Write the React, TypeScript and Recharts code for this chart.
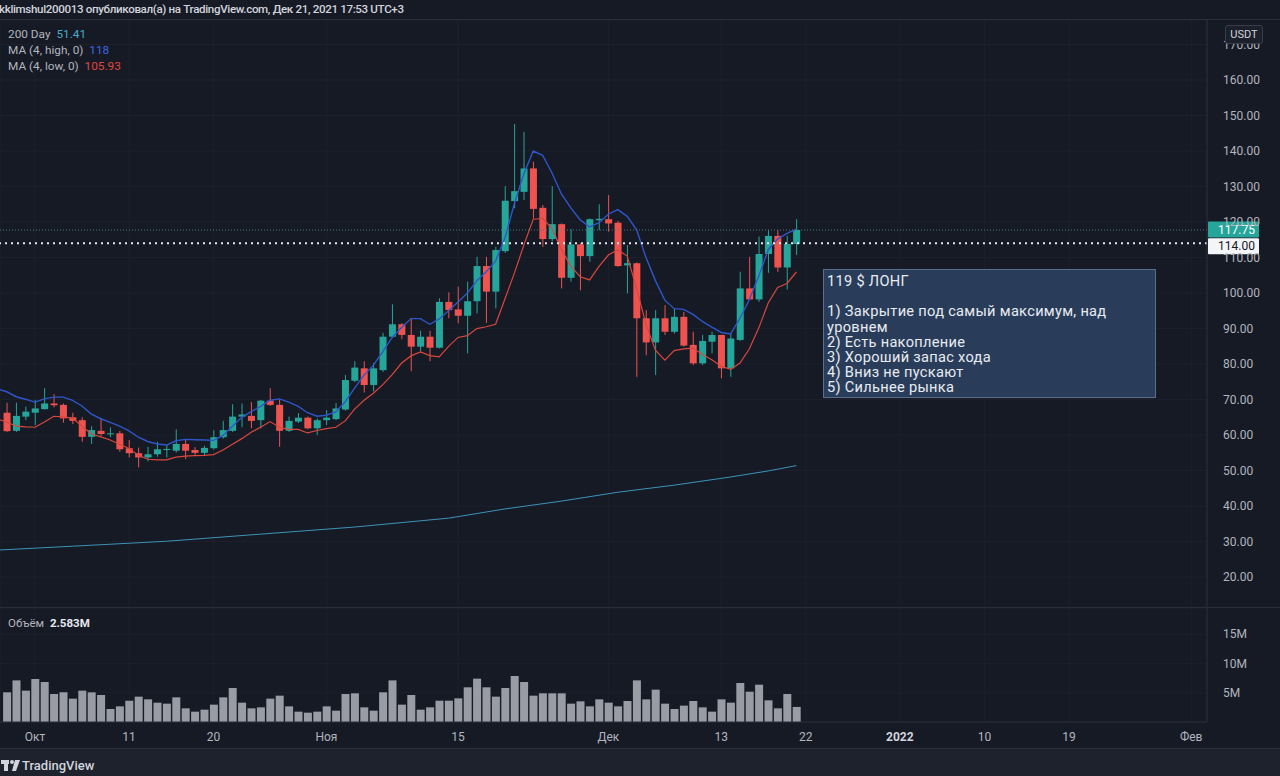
import React from "react";
import {
  ComposedChart,
  Bar,
  Line,
  XAxis,
  YAxis,
  CartesianGrid,
  ReferenceLine,
} from "recharts";

const BG = "#161a25";
const GRID = "#1d212d";
const BORDER = "#2a2e39";
const TEXT = "#b2b5be";
const UP = "#26a69a";
const DOWN = "#ef5350";
const FONT = "Roboto, 'Noto Sans', sans-serif";

// day index: 0 = 1 Oct 2021, candles run 28 Sep .. 21 Dec
const FIRST_DAY = -4;
const DAYS = Array.from({ length: 86 }, (_, i) => FIRST_DAY + i);

const DATE_TICKS = [0, 10, 19, 31, 45, 61, 73, 82, 92, 101, 110, 123];
const DATE_LABELS = ["Окт", "11", "20", "Ноя", "15", "Дек", "13", "22", "2022", "10", "19", "Фев"];
const PRICE_TICKS = [20, 30, 40, 50, 60, 70, 80, 90, 100, 110, 120, 130, 140, 150, 160, 170];
const VOL_TICKS = [5, 10, 15];

// candles from 28 Sep (day -3) to 21 Dec (day 81)
const OPEN = [
  66.3, 61.2, 65.2, 66.3, 67.3, 68.9, 68.5, 65.0, 64.2, 59.5, 61.2, 60.2, 60.5, 56.3, 54.9, 53.7, 54.6,
  55.8, 55.6, 57.5, 55.8, 55.0, 56.3, 59.4, 61.2, 65.2, 65.4, 64.2, 69.7, 68.5, 61.2, 63.8, 64.9, 61.9,
  64.2, 64.5, 67.2, 75.3, 78.8, 74.1, 78.3, 87.7, 91.2, 88.2, 84.9, 87.7, 84.6, 97.5, 95.4, 93.6, 97.7,
  107.6, 100.4, 111.8, 125.9, 128.5, 135.1, 124.0, 115.2, 119.4, 104.3, 113.7, 110.4, 120.5, 120.8, 119.8,
  107.8, 108.4, 92.9, 86.1, 92.9, 89.1, 93.3, 85.4, 80.2, 86.3, 88.2, 78.8, 86.8, 101.3, 98.2, 111.0,
  116.1, 107.2, 113.8,
];
const HIGH = [
  69.1, 69.1, 68.0, 69.9, 73.2, 71.5, 68.9, 66.3, 65.0, 62.5, 64.7, 62.2, 61.2, 58.6, 56.5, 56.7, 58.1,
  57.2, 61.6, 58.6, 56.6, 57.0, 61.4, 64.0, 68.7, 68.9, 69.3, 69.9, 73.2, 70.1, 65.2, 66.2, 65.2, 64.7,
  67.0, 69.0, 76.9, 80.8, 80.8, 80.3, 88.8, 96.8, 91.5, 93.0, 89.4, 89.4, 98.5, 100.2, 101.8, 103.2,
  110.2, 110.2, 113.0, 130.1, 147.6, 145.4, 137.0, 124.8, 130.1, 119.6, 118.0, 114.0, 121.0, 125.0, 127.6,
  120.3, 113.5, 108.6, 95.2, 95.2, 96.6, 95.7, 94.7, 89.1, 88.2, 89.1, 88.2, 88.6, 106.0, 110.2, 115.9,
  117.7, 117.7, 116.1, 120.8,
];
const LOW = [
  60.9, 60.9, 64.2, 62.8, 67.2, 67.8, 63.5, 63.1, 58.1, 57.5, 59.8, 59.4, 55.3, 53.7, 50.9, 52.6, 53.9,
  53.7, 55.1, 53.2, 54.3, 54.4, 55.9, 59.0, 60.9, 62.2, 61.9, 61.9, 68.2, 56.7, 60.9, 63.4, 61.6, 60.0,
  62.8, 64.2, 66.9, 74.9, 72.0, 72.3, 77.8, 87.3, 87.0, 78.0, 83.5, 80.8, 84.4, 92.9, 91.5, 83.0, 94.3,
  91.6, 95.7, 111.3, 123.9, 126.2, 121.0, 113.0, 114.6, 101.3, 103.2, 100.8, 108.8, 117.7, 117.3, 107.4,
  99.9, 76.4, 82.5, 76.9, 88.2, 88.6, 84.9, 79.7, 79.7, 83.0, 76.0, 76.4, 86.5, 98.0, 97.5, 105.7, 106.0,
  101.0, 110.7,
];
const CLOSE = [
  61.1, 65.4, 66.6, 67.5, 68.9, 68.4, 64.7, 64.0, 59.5, 61.4, 60.3, 60.5, 56.0, 54.9, 53.7, 54.6, 56.0,
  56.1, 57.5, 55.6, 55.0, 56.4, 59.4, 61.4, 65.2, 65.8, 64.0, 69.7, 68.5, 61.2, 64.0, 64.9, 61.9, 64.2,
  64.9, 67.5, 75.5, 79.0, 74.1, 78.8, 87.7, 91.2, 88.2, 84.9, 87.7, 84.6, 97.5, 95.2, 93.6, 97.7, 107.6,
  100.4, 112.1, 126.0, 128.7, 135.1, 123.7, 115.2, 119.4, 104.3, 113.7, 110.4, 120.8, 120.9, 119.6, 107.6,
  108.4, 92.9, 86.1, 92.9, 89.1, 93.3, 85.2, 80.2, 86.5, 88.2, 78.8, 87.2, 101.3, 98.2, 111.0, 116.1,
  107.2, 113.8, 117.75,
];
// volume in millions
const VOLUME = [
  5.08, 7.13, 5.37, 7.36, 6.85, 4.79, 5.08, 4.0, 5.37, 5.08, 4.62, 2.23, 2.68, 3.65, 4.34, 3.88, 3.31,
  3.14, 4.22, 2.34, 1.77, 2.11, 2.97, 4.22, 5.82, 3.31, 2.34, 2.51, 4.0, 4.51, 2.68, 1.77, 1.6, 1.77,
  2.68, 1.94, 4.79, 4.91, 2.51, 1.94, 5.08, 7.13, 2.97, 4.62, 2.11, 2.51, 3.65, 3.65, 4.05, 5.94, 7.42,
  5.94, 4.34, 5.82, 7.88, 6.85, 4.51, 4.91, 4.91, 4.91, 3.14, 3.54, 2.68, 3.88, 3.31, 2.68, 3.6, 7.13,
  3.88, 5.54, 3.14, 2.23, 2.8, 3.6, 2.51, 1.77, 3.88, 3.31, 6.68, 5.19, 6.39, 3.71, 2.34, 4.79, 2.58,
];
// MA (4, high) and MA (4, low), from day -4
const MA_HIGH = [
  73.0, 72.2, 70.8, 70.1, 69.3, 70.2, 70.7, 70.7, 69.8, 68.2, 65.9, 64.6, 63.6, 62.5, 61.2, 59.4, 58.2,
  57.5, 57.2, 58.4, 58.8, 58.7, 58.6, 58.5, 59.9, 62.5, 65.0, 66.6, 68.1, 69.8, 70.2, 69.3, 68.1, 66.3,
  65.3, 65.6, 66.5, 69.4, 73.2, 76.9, 79.7, 83.5, 87.5, 90.3, 92.8, 92.8, 91.2, 92.7, 95.0, 97.5, 100.0,
  103.5, 106.0, 109.0, 115.6, 125.2, 133.5, 140.0, 138.8, 133.8, 127.9, 124.0, 120.6, 118.6, 119.8,
  122.2, 123.5, 121.6, 117.8, 110.0, 103.5, 98.0, 95.6, 95.4, 94.0, 92.0, 90.4, 88.9, 88.5, 92.9, 98.2,
  104.8, 112.2, 115.2, 116.8, 118.0,
];
const MA_LOW = [
  64.5, 63.7, 62.5, 62.3, 62.2, 63.7, 65.3, 65.1, 64.8, 62.5, 60.3, 59.5, 58.6, 57.4, 56.2, 54.3, 53.2,
  53.0, 53.0, 53.8, 54.1, 54.2, 54.3, 54.5, 55.8, 57.4, 59.0, 60.8, 62.2, 63.8, 62.2, 61.6, 61.6, 60.6,
  61.3, 61.8, 62.2, 64.0, 67.3, 69.8, 71.8, 74.2, 77.0, 80.3, 82.3, 83.4, 82.4, 82.0, 85.0, 87.5, 88.0,
  90.0, 90.5, 91.2, 98.4, 105.6, 113.5, 120.8, 121.0, 118.2, 112.3, 107.6, 104.6, 103.7, 107.5, 110.7,
  112.2, 110.4, 101.3, 91.2, 83.9, 81.1, 83.8, 84.3, 84.5, 82.7, 81.2, 79.4, 78.5, 80.3, 84.3, 90.2,
  97.2, 101.6, 102.7, 105.93,
];
// 200-day average, read at a few days
const DAY200_AT = [-4, 4, 14, 24, 34, 44, 50, 56, 62, 68, 74, 78, 81];
const DAY200_VAL = [27.6, 28.7, 30.1, 32.1, 34.1, 36.6, 39.2, 41.4, 43.9, 45.9, 48.2, 49.9, 51.41];

const LAST_PRICE = 117.75;
const LEVEL = 114;

const rows = DAYS.map((d, i) => {
  const k = i - 1;
  const j = DAY200_AT.indexOf(d);
  return {
    d,
    open: k >= 0 ? OPEN[k] : null,
    high: k >= 0 ? HIGH[k] : null,
    low: k >= 0 ? LOW[k] : null,
    close: k >= 0 ? CLOSE[k] : null,
    range: k >= 0 ? [LOW[k], HIGH[k]] : null,
    vol: k >= 0 ? VOLUME[k] : null,
    maHigh: MA_HIGH[i],
    maLow: MA_LOW[i],
    day200: j >= 0 ? DAY200_VAL[j] : null,
  };
});

const X_DOMAIN = [-3.723, 124.68];

function Candle(props: any) {
  const { x, y, width, height, payload } = props;
  if (payload == null || payload.open == null) return null;
  const { open, close, high, low } = payload;
  const color = close >= open ? UP : DOWN;
  const top = Math.min(y, y + height);
  const h = Math.abs(height);
  const cx = x + width / 2;
  const k = h / (high - low || 1);
  const yOf = (p: number) => top + (high - p) * k;
  const b0 = yOf(Math.max(open, close));
  const b1 = yOf(Math.min(open, close));
  return (
    <g>
      <line x1={cx} x2={cx} y1={top} y2={top + h} stroke={color} strokeWidth={1} />
      <rect x={cx - 3.5} y={b0} width={7} height={Math.max(1, b1 - b0)} fill={color} />
    </g>
  );
}

function PriceTick(props: any) {
  const { x, y, payload } = props;
  return (
    <text x={x} y={y} dy={4} fill={TEXT} fontSize={12} fontFamily={FONT} textAnchor="start">
      {payload.value.toFixed(2)}
    </text>
  );
}

function VolTick(props: any) {
  const { x, y, payload } = props;
  return (
    <text x={x} y={y} dy={4} fill={TEXT} fontSize={12} fontFamily={FONT} textAnchor="start">
      {payload.value + "M"}
    </text>
  );
}

function DateTick(props: any) {
  const { x, y, payload } = props;
  const label = DATE_LABELS[DATE_TICKS.indexOf(payload.value)];
  const year = label === "2022";
  return (
    <text
      x={x}
      y={y}
      dy={11}
      fill={year ? "#d1d4dc" : TEXT}
      fontWeight={year ? 700 : 400}
      fontSize={12}
      fontFamily={FONT}
      textAnchor="middle"
    >
      {label}
    </text>
  );
}

function PriceBadge({ viewBox, value, fill, color }: any) {
  const x = viewBox.x + viewBox.width;
  const off = value === LAST_PRICE ? -8.5 : -5;
  return (
    <g>
      <rect x={x + 1} y={viewBox.y + off} width={51} height={16} fill={fill} rx={1} />
      <text
        x={x + 11}
        y={viewBox.y + off + 12}
        fill={color}
        fontSize={12}
        fontFamily={FONT}
      >
        {value.toFixed(2)}
      </text>
    </g>
  );
}

const NOTE_LINES = [
  "119 $ ЛОНГ",
  "\u00a0",
  "1) Закрытие под самый максимум, над",
  "уровнем",
  "2) Есть накопление",
  "3) Хороший запас хода",
  "4) Вниз не пускают",
  "5) Сильнее рынка",
];

export default function App() {
  return (
    <div
      style={{
        position: "fixed",
        left: 0,
        top: 0,
        width: 1280,
        height: 776,
        overflow: "hidden",
        background: BG,
        fontFamily: FONT,
      }}
    >
      <div
        style={{
          position: "absolute",
          left: -1,
          top: 1,
          fontSize: 11.6,
          letterSpacing: -0.35,
          fontWeight: 500,
          color: "#d1d4dc",
          whiteSpace: "nowrap",
          lineHeight: "16px",
        }}
      >
        kklimshul200013 опубликовал(а) на TradingView.com, Дек 21, 2021 17:53 UTC+3
      </div>
      <div style={{ position: "absolute", left: 0, top: 19, width: 1280, height: 1, background: BORDER }} />

      <div style={{ position: "absolute", left: 0, top: 20 }}>
        <ComposedChart width={1280} height={588} data={rows} margin={{ top: 0, right: 0, bottom: 0, left: 0 }}>
          <CartesianGrid stroke={GRID} />
          <XAxis
            dataKey="d"
            type="number"
            domain={X_DOMAIN}
            ticks={DATE_TICKS}
            allowDataOverflow
            hide
          />
          <YAxis
            orientation="right"
            width={73}
            domain={[11.3, 176.9]}
            ticks={PRICE_TICKS}
            allowDataOverflow
            axisLine={{ stroke: BORDER }}
            tickLine={false}
            tickMargin={10}
            tick={<PriceTick />}
          />
          <Bar dataKey="range" shape={<Candle />} isAnimationActive={false} />
          <Line
            dataKey="day200"
            stroke="#3d93b8"
            strokeWidth={1}
            dot={false}
            connectNulls
            isAnimationActive={false}
          />
          <Line dataKey="maHigh" stroke="#2f56c9" strokeWidth={1.4} dot={false} isAnimationActive={false} />
          <Line dataKey="maLow" stroke="#d9473d" strokeWidth={1.2} dot={false} isAnimationActive={false} />
          <ReferenceLine
            y={LAST_PRICE}
            stroke="#4f7c82"
            strokeDasharray="1 2"
            label={<PriceBadge value={LAST_PRICE} fill={UP} color="#ffffff" />}
          />
          <ReferenceLine
            y={LEVEL}
            stroke="#e6e8ee"
            strokeWidth={2}
            strokeDasharray="2 4"
            label={<PriceBadge value={LEVEL} fill="#f4f5f8" color="#131722" />}
          />
        </ComposedChart>
      </div>

      <div style={{ position: "absolute", left: 0, top: 607, width: 1280, height: 1, background: BORDER }} />

      <div style={{ position: "absolute", left: 0, top: 608 }}>
        <ComposedChart width={1280} height={140} data={rows} margin={{ top: 0, right: 0, bottom: 0, left: 0 }}>
          <CartesianGrid stroke={GRID} />
          <XAxis
            dataKey="d"
            type="number"
            domain={X_DOMAIN}
            ticks={DATE_TICKS}
            allowDataOverflow
            height={26}
            axisLine={{ stroke: BORDER }}
            tickLine={false}
            tick={<DateTick />}
          />
          <YAxis
            orientation="right"
            width={73}
            domain={[0, 19.52]}
            ticks={VOL_TICKS}
            allowDataOverflow
            axisLine={{ stroke: BORDER }}
            tickLine={false}
            tickMargin={10}
            tick={<VolTick />}
          />
          <Bar dataKey="vol" fill="#9a9ca5" barSize={8} isAnimationActive={false} />
        </ComposedChart>
      </div>

      <div style={{ position: "absolute", left: 8, top: 26, fontSize: 11.8, lineHeight: "16px", color: TEXT }}>
        <div>
          200 Day <span style={{ color: "#4aa8cc", marginLeft: 3 }}>51.41</span>
        </div>
        <div>
          MA (4, high, 0) <span style={{ color: "#3a66e0", marginLeft: 3 }}>118</span>
        </div>
        <div>
          MA (4, low, 0) <span style={{ color: "#e0473e", marginLeft: 3 }}>105.93</span>
        </div>
      </div>

      <div style={{ position: "absolute", left: 8, top: 615, fontSize: 11.5, lineHeight: "16px", color: TEXT }}>
        Объём <span style={{ color: "#e6e8ee", fontWeight: 700, marginLeft: 3 }}>2.583M</span>
      </div>

      <div
        style={{
          position: "absolute",
          left: 823,
          top: 269,
          width: 333,
          height: 129,
          background: "#293d5a",
          border: "1px solid #5b6f8c",
          color: "#e8ebf2",
          fontSize: 14.6,
          letterSpacing: 0.3,
          lineHeight: "15.2px",
          padding: "4px 0 0 3px",
          boxSizing: "border-box",
          whiteSpace: "nowrap",
        }}
      >
        {NOTE_LINES.map((t, i) => (
          <div key={i}>{t}</div>
        ))}
      </div>

      <div
        style={{
          position: "absolute",
          left: 1225,
          top: 25,
          width: 36,
          height: 17,
          border: "1px solid #3a3e4a",
          background: "#1c202b",
          borderRadius: 3,
          color: "#d1d4dc",
          fontSize: 11,
          lineHeight: "17px",
          textAlign: "center",
        }}
      >
        USDT
      </div>

      <div
        style={{
          position: "absolute",
          left: 0,
          top: 748,
          width: 1280,
          height: 28,
          background: "#1e222d",
          borderTop: "1px solid " + BORDER,
          boxSizing: "border-box",
        }}
      >
        <svg width={22} height={14} style={{ position: "absolute", left: 1, top: 10 }}>
          <rect x={0} y={1} width={8} height={4} fill="#d1d4dc" />
          <rect x={3} y={1} width={4} height={11} fill="#d1d4dc" />
          <circle cx={11} cy={3} r={2} fill="#d1d4dc" />
          <path d="M14 1 L19 1 L15 12 L11 12 Z" fill="#d1d4dc" />
        </svg>
        <div
          style={{
            position: "absolute",
            left: 22,
            top: 9,
            fontSize: 13,
            fontWeight: 500,
            color: "#d1d4dc",
            lineHeight: "16px",
          }}
        >
          TradingView
        </div>
      </div>
    </div>
  );
}
